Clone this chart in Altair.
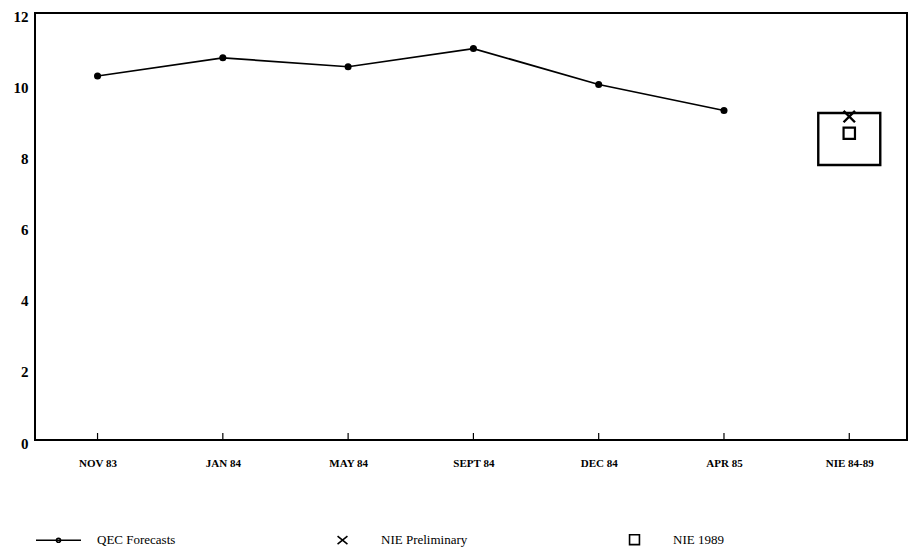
import altair as alt
import pandas as pd

categories = ["NOV 83", "JAN 84", "MAY 84", "SEPT 84", "DEC 84", "APR 85", "NIE 84-89"]
qec_dates = ["NOV 83", "JAN 84", "MAY 84", "SEPT 84", "DEC 84", "APR 85"]
qec_values = [10.23, 10.74, 10.49, 11.00, 9.99, 9.26]
nie_category = "NIE 84-89"
nie_prelim = 9.09
nie_1989 = 8.62
nie_range_low = 7.73
nie_range_high = 9.19
series_names = ["QEC Forecasts", "NIE Preliminary", "NIE 1989"]

FONT = "Liberation Serif"
W, H = 872, 427

xscale = alt.Scale(domain=categories, type="point", padding=0.48, align=0.52)
yscale = alt.Scale(domain=[0, 12], nice=False, zero=True)

xaxis = alt.Axis(title=None, labelAngle=0, ticks=False, domain=False, grid=False,
                 labelFont=FONT, labelFontWeight="bold", labelFontSize=11,
                 labelColor="black", labelPadding=17)
yaxis = alt.Axis(title=None, values=[0, 2, 4, 6, 8, 10, 12], ticks=False, domain=False,
                 grid=False, labelFont=FONT, labelFontWeight="bold", labelFontSize=15,
                 labelColor="black", labelPadding=7, labelOffset=3)

qec_df = pd.DataFrame({"cat": qec_dates, "val": qec_values})
nie_df = pd.DataFrame({"cat": [nie_category], "lo": [nie_range_low], "hi": [nie_range_high],
                       "prelim": [nie_prelim], "n1989": [nie_1989]})
tick_df = pd.DataFrame({"cat": categories})
legend_df = pd.DataFrame({"series": series_names, "cat": [categories[0]] * 3, "val": [0, 0, 0]})

base_x = alt.X("cat:N", scale=xscale, axis=xaxis, sort=categories)

line = alt.Chart(qec_df).mark_line(color="black", strokeWidth=1.7).encode(
    x=base_x, y=alt.Y("val:Q", scale=yscale, axis=yaxis))
pts = alt.Chart(qec_df).mark_point(filled=True, color="black", size=50, shape="circle", opacity=1).encode(
    x=alt.X("cat:N", scale=xscale, sort=categories), y=alt.Y("val:Q", scale=yscale))

box = alt.Chart(nie_df).mark_bar(size=62, fill="transparent", stroke="black", strokeWidth=2.4).encode(
    x=alt.X("cat:N", scale=xscale, sort=categories), y=alt.Y("lo:Q", scale=yscale), y2="hi:Q")

xmark = alt.Chart(nie_df).mark_point(shape="M-1,-1L1,1M1,-1L-1,1", size=130, color="black",
                                     strokeWidth=2.4, opacity=1, filled=False).encode(
    x=alt.X("cat:N", scale=xscale, sort=categories), y=alt.Y("prelim:Q", scale=yscale))
sqmark = alt.Chart(nie_df).mark_point(shape="square", size=130, color="black",
                                      strokeWidth=2.2, opacity=1, filled=False).encode(
    x=alt.X("cat:N", scale=xscale, sort=categories), y=alt.Y("n1989:Q", scale=yscale))

ticks = alt.Chart(tick_df).mark_rule(color="black", strokeWidth=1.2).encode(
    x=alt.X("cat:N", scale=xscale, sort=categories),
    y=alt.value(H - 7), y2=alt.value(H))

legend_shapes = [
    "M-1,0L1,0M0.09,0A0.09,0.09 0 1,1 -0.09,0A0.09,0.09 0 1,1 0.09,0",
    "M-0.22,-0.18L0.22,0.18M0.22,-0.18L-0.22,0.18",
    "M-0.22,-0.22L0.22,-0.22L0.22,0.22L-0.22,0.22Z",
]
legend_layer = alt.Chart(legend_df).mark_point(opacity=0, filled=False, color="black", size=2025).encode(
    x=alt.X("cat:N", scale=xscale, sort=categories),
    y=alt.Y("val:Q", scale=yscale),
    shape=alt.Shape("series:N", scale=alt.Scale(domain=series_names, range=legend_shapes),
                    legend=alt.Legend(title=None, orient="none", legendX=0, legendY=503,
                                      direction="horizontal", columns=3, columnPadding=143,
                                      symbolOpacity=1, symbolStrokeColor="black",
                                      symbolStrokeWidth=1.6, symbolSize=2025,
                                      labelFont=FONT, labelFontSize=13, labelColor="black",
                                      labelOffset=15, padding=0, rowPadding=0)),
)

chart = alt.layer(line, pts, box, xmark, sqmark, ticks, legend_layer).properties(
    width=W, height=H,
    background="white",
    autosize=alt.AutoSizeParams(type="none"),
    padding={"left": 27, "top": 5, "right": 1, "bottom": 107},
).configure_view(stroke="black", strokeWidth=2)

chart.save("out.html", embed_options={"renderer": "svg", "actions": False})
